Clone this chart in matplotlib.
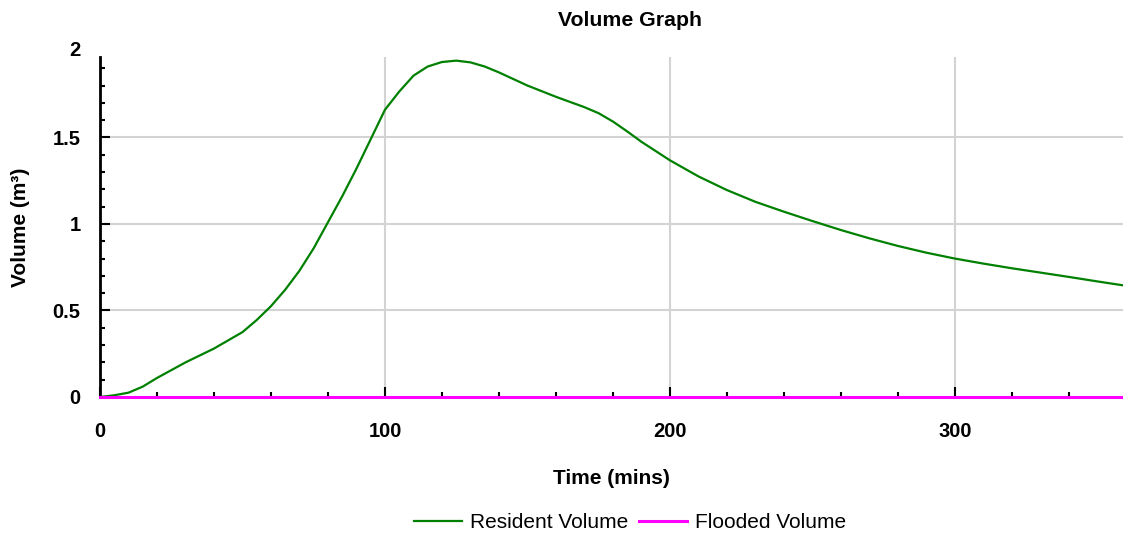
import matplotlib
matplotlib.use("Agg")
import matplotlib.pyplot as plt
from matplotlib.ticker import MultipleLocator

plt.rcParams['font.family'] = ['Liberation Sans', 'DejaVu Sans']

time_mins = [0, 5, 10, 15, 20, 30, 40, 50, 55, 60, 65, 70, 75, 80, 85, 90, 95, 100,
             105, 110, 115, 120, 125, 130, 135, 140, 150, 160, 170, 175, 180, 185, 190,
             200, 210, 220, 230, 240, 250, 260, 270, 280, 290, 300, 310, 320, 330, 340,
             350, 360]
resident_volume = [0.0, 0.01, 0.025, 0.06, 0.11, 0.2, 0.28, 0.375, 0.445, 0.525, 0.62,
                   0.73, 0.86, 1.01, 1.16, 1.32, 1.49, 1.66, 1.765, 1.857, 1.91, 1.936,
                   1.944, 1.934, 1.91, 1.876, 1.80, 1.735, 1.675, 1.64, 1.592, 1.535,
                   1.475, 1.368, 1.275, 1.196, 1.128, 1.071, 1.017, 0.965, 0.917, 0.873,
                   0.834, 0.80, 0.771, 0.744, 0.719, 0.694, 0.668, 0.643]
flooded_volume = [0.0] * len(time_mins)

x_ticks = [0, 100, 200, 300]
y_ticks = [0, 0.5, 1, 1.5]
y_tick_labels = ['0', '0.5', '1', '1.5']

fig = plt.figure(figsize=(11.23, 5.39), dpi=100)
ax = fig.add_axes([100 / 1123, 1 - 397 / 539, 1023 / 1123, 340 / 539])

ax.plot(time_mins, resident_volume, color='#008000', lw=1.6, label='Resident Volume', zorder=3)
ax.plot(time_mins, flooded_volume, color='#ff00ff', lw=2.2, label='Flooded Volume', zorder=4,
        clip_on=False)

ax.set_xlim(0, 359)
ax.set_ylim(0, 1.965)
ax.set_xticks(x_ticks)
ax.set_xticklabels([str(v) for v in x_ticks])
ax.set_yticks(y_ticks)
ax.set_yticklabels(y_tick_labels)
ax.xaxis.set_minor_locator(MultipleLocator(20))
ax.yaxis.set_minor_locator(MultipleLocator(0.1))
ax.text(-20 / 1023, 2.0, '2', transform=ax.get_yaxis_transform(), ha='right', va='center',
        fontsize=14.5, fontweight='bold', clip_on=False)

ax.grid(True, which='major', color='#d3d3d3', lw=1.5)
ax.set_axisbelow(True)
for s in ['top', 'right']:
    ax.spines[s].set_visible(False)
for s in ['left', 'bottom']:
    ax.spines[s].set_linewidth(2)
ax.tick_params(which='major', direction='in', length=7, width=1.5, labelsize=14.5)
ax.tick_params(which='minor', direction='in', length=3.5, width=1.5)
ax.tick_params(axis='y', which='major', pad=14)
ax.tick_params(axis='x', which='major', pad=18)
for lab in ax.get_xticklabels() + ax.get_yticklabels():
    lab.set_fontweight('bold')

ax.set_xlabel('Time (mins)', fontsize=15, fontweight='bold', labelpad=20)
ax.set_ylabel('Volume (m³)', fontsize=15, fontweight='bold', labelpad=16)
fig.text(630 / 1123, 1 - 20 / 539, 'Volume Graph', ha='center', va='center',
         fontsize=15.3, fontweight='bold')

fig.legend(loc='center', bbox_to_anchor=(630 / 1123, 1 - 523 / 539), ncol=2, frameon=False,
           fontsize=15, handlelength=2.3, columnspacing=0.5, handletextpad=0.4)

fig.savefig('out.png', dpi=100)
